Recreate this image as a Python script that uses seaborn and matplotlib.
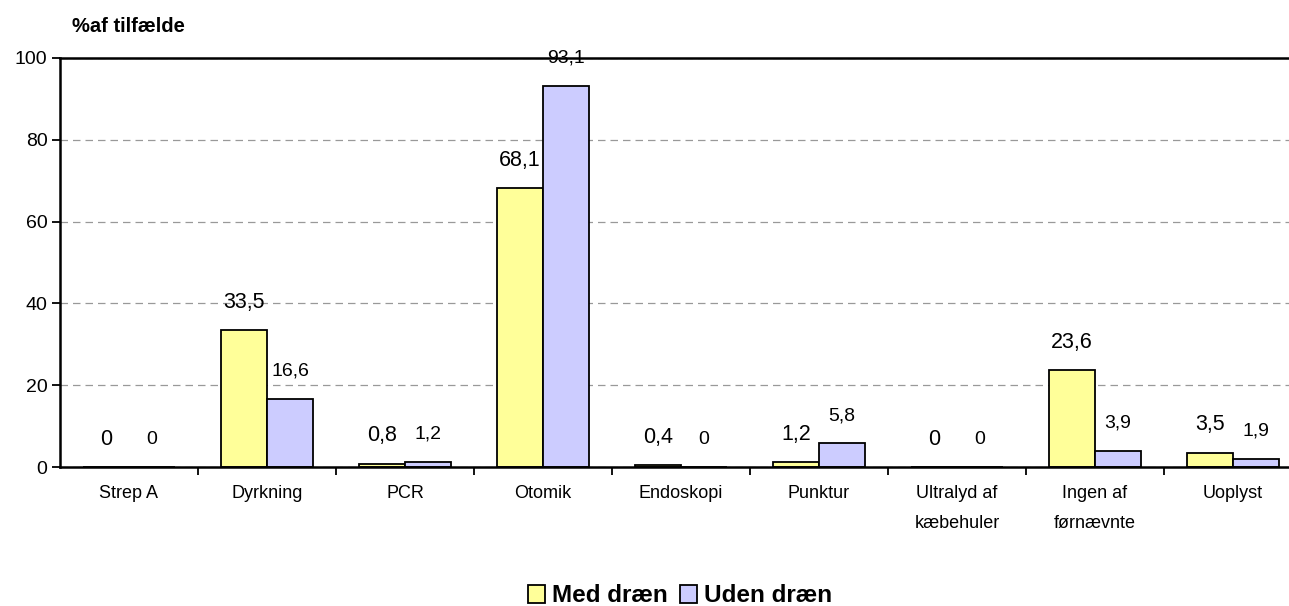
import numpy as np
import matplotlib
matplotlib.use("Agg")
import matplotlib.pyplot as plt
from matplotlib.patches import Patch
import pandas as pd
import seaborn as sns

categories = ["Strep A", "Dyrkning", "PCR", "Otomik", "Endoskopi", "Punktur",
              "Ultralyd af\nkæbehuler", "Ingen af\nførnævnte", "Uoplyst"]
med_draen = [0, 33.5, 0.8, 68.1, 0.4, 1.2, 0, 23.6, 3.5]
uden_draen = [0, 16.6, 1.2, 93.1, 0, 5.8, 0, 3.9, 1.9]
series = ["Med dræn", "Uden dræn"]
colors = ["#FFFF99", "#CCCCFF"]
yticks = [0, 20, 40, 60, 80, 100]

df = pd.DataFrame({
    "kategori": categories * 2,
    "gruppe": [series[0]] * len(categories) + [series[1]] * len(categories),
    "pct": med_draen + uden_draen,
})

sns.set_style("white")
plt.rcParams["font.family"] = ["Liberation Sans", "DejaVu Sans"]
plt.rcParams["text.color"] = "black"
plt.rcParams["xtick.color"] = "black"
plt.rcParams["ytick.color"] = "black"

fig = plt.figure(figsize=(12.89, 6.06), dpi=100)
ax = fig.add_axes([60 / 1289, 139 / 606, 1229 / 1289, 409 / 606])

sns.barplot(data=df, x="kategori", y="pct", hue="gruppe", palette=colors,
            width=0.667, edgecolor="black", linewidth=1.3, saturation=1,
            ax=ax, legend=False)

# værdier over søjlerne
def fmt(v):
    return "0" if v == 0 else f"{v:.1f}".replace(".", ",")

for i, cont in enumerate(ax.containers):
    vals = med_draen if i == 0 else uden_draen
    for bar, v in zip(cont, vals):
        ax.annotate(fmt(v), (bar.get_x() + bar.get_width() / 2, v),
                    xytext=(0, 20), textcoords="offset points",
                    ha="center", va="center",
                    fontsize=15.5 if i == 0 else 14)

ax.set_ylim(0, 100)
ax.set_xlim(-0.5, 8.406)
ax.set_yticks(yticks)
ax.set_yticklabels([str(t) for t in yticks], fontsize=14)
ax.yaxis.grid(True, linestyle=(0, (6, 4)), color="#999999", linewidth=0.9)
ax.set_axisbelow(True)
ax.tick_params(axis="y", length=6, width=1.3, direction="out", left=True, pad=3)

ax.set_xticks(range(len(categories)))
ax.set_xticklabels(categories, fontsize=13, linespacing=2.0, va="top")
ax.tick_params(axis="x", which="major", length=0, pad=13)
ax.set_xticks(np.arange(0.5, 8.5, 1), minor=True)
ax.tick_params(axis="x", which="minor", length=6, width=1.3, direction="out", bottom=True)
ax.set_xlabel("")
ax.set_ylabel("")

for s in ["left", "top", "bottom"]:
    ax.spines[s].set_color("black")
    ax.spines[s].set_linewidth(1.8)
ax.spines["right"].set_visible(False)

fig.text(72 / 1289, 1 - 27 / 606, "%af tilfælde", fontsize=14.5, fontweight="bold",
         va="center", ha="left")

handles = [Patch(facecolor=c, edgecolor="black", linewidth=1.3) for c in colors]
fig.legend(handles, series, loc="center", bbox_to_anchor=(680 / 1289, 1 - 596 / 606),
           ncol=2, frameon=False, prop={"weight": "bold", "size": 17.5},
           handlelength=0.7, handleheight=0.7, handletextpad=0.3, columnspacing=0.5)

fig.savefig("out.png", dpi=100)
